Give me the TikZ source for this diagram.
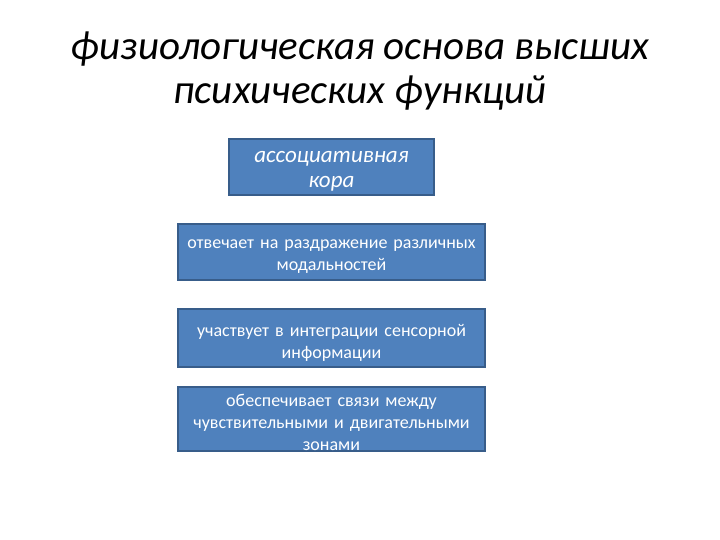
\documentclass[tikz,border=0pt]{standalone}
\usepackage{fontspec}
\setmainfont{Carlito}
\usepackage{tikz}
\usetikzlibrary{positioning}
\definecolor{boxblue}{HTML}{4F81BD}
\definecolor{boxline}{HTML}{385D8A}
\tikzset{
	bluebox/.style={draw=boxline,line width=1.5pt,fill=boxblue,inner sep=0pt},
	boxtext/.style={text=white,align=center,inner sep=0pt,font=\fontsize{18}{22}\selectfont,text width=300pt},
	titletext/.style={font=\fontsize{41}{44}\selectfont\itshape,anchor=base}
}
\begin{document}
\begin{tikzpicture}[x=1pt,y=-1pt]
			\useasboundingbox[fill=white] (0,0) rectangle (720,540);
			% title
			\node[titletext] (title1) at (360,60) {физиологическая основа высших};
			\node[titletext] (title2) at (360,104) {психических функций};
			% boxes
			\node[bluebox,minimum width=205pt,minimum height=56pt] (cortex) at (331.5,167) {};
			\node[bluebox,minimum width=307pt,minimum height=56pt] (modal) at (331.5,252) {};
			\node[bluebox,minimum width=307pt,minimum height=58pt] (integr) at (331.5,338) {};
			\node[bluebox,minimum width=307pt,minimum height=64pt] (links) at (331.5,419) {};
			% texts in the boxes
			\node[boxtext,text width=200pt,font=\fontsize{23}{25}\selectfont\itshape] (cortextxt) at ([yshift=-4pt]cortex.center) {ассоциативная\\кора};
			\node[boxtext] (modaltxt) at ([yshift=-5pt]modal.center) {отвечает на раздражение различных\\модальностей};
			\node[boxtext] (integrtxt) at ([yshift=-5pt]integr.center) {участвует в интеграции сенсорной\\информации};
			\node[boxtext] (linkstxt) at ([yshift=-3pt]links.center) {обеспечивает связи между\\чувствительными и двигательными\\зонами};
\end{tikzpicture}
\end{document}
